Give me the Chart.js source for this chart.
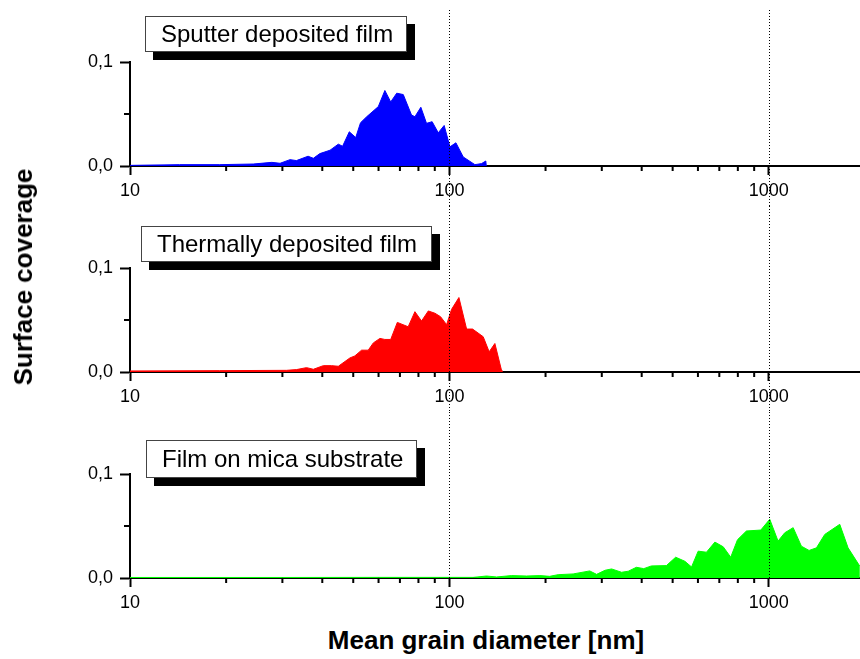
<!DOCTYPE html>
<html>
<head>
<meta charset="utf-8">
<script src="https://cdn.jsdelivr.net/npm/chart.js@4.4.1/dist/chart.umd.min.js"></script>
<style>
  body { margin: 0; background: #fff; }
  #wrap { position: relative; width: 860px; height: 659px; font-family: "Liberation Sans", Arial, sans-serif; }
  canvas { position: absolute; left: 0; }
  .tag {
    position: absolute; box-sizing: border-box; background: #fff;
    border: 1px solid #444; box-shadow: 8px 8px 0 #000;
    font-size: 24px; padding-left: 15px; color: #000; white-space: nowrap;
  }
  .title { position: absolute; font-size: 26px; font-weight: bold; line-height: 30px; white-space: nowrap; color: #000; }
</style>
</head>
<body>
<div id="wrap">
  <canvas id="c1" width="860" height="206" style="top:0"></canvas>
  <canvas id="c2" width="860" height="206" style="top:206px"></canvas>
  <canvas id="c3" width="860" height="206" style="top:412px"></canvas>

  <div class="tag" style="left:145px;top:16px;width:262px;height:36px;line-height:34px">Sputter deposited film</div>
  <div class="tag" style="left:141px;top:226px;width:291px;height:36px;line-height:34px">Thermally deposited film</div>
  <div class="tag" style="left:146px;top:440px;width:271px;height:38px;line-height:36px">Film on mica substrate</div>

  <div class="title" style="left:23px;top:277px;transform:translate(-50%,-50%) rotate(-90deg)">Surface coverage</div>
  <div class="title" style="left:486px;top:625px;transform:translateX(-50%)">Mean grain diameter [nm]</div>
</div>
<script>
// grain diameter [nm] and surface coverage
const sputterD = [10, 14.3, 19.1, 24.3, 27.8, 29.5, 31.7, 33.2, 36.1, 37.5, 39.3, 42.3, 44.9, 46.3, 48.6, 50.9, 52.7, 55.1, 59.9, 62.8, 65.5, 68.4, 71.7, 76.1, 78.0, 81.4, 84.8, 88.3, 92.3, 96.3, 100.4, 104.8, 110.5, 120.2, 126.1, 130.0, 130.5];
const sputterV = [0.0006, 0.0013, 0.0013, 0.0019, 0.0035, 0.0026, 0.0061, 0.0052, 0.0094, 0.0074, 0.0119, 0.0152, 0.021, 0.019, 0.0329, 0.0274, 0.0416, 0.0474, 0.0571, 0.0726, 0.0616, 0.070, 0.0687, 0.049, 0.0474, 0.0565, 0.041, 0.0426, 0.0319, 0.039, 0.0184, 0.0223, 0.0087, 0.0013, 0.0023, 0.0048, 0];

const thermalD = [10, 19.1, 30.9, 33.2, 35.7, 37.5, 40.3, 42.8, 44.9, 48.8, 50.6, 53.1, 55.7, 57.8, 60.6, 62.8, 65.5, 68.7, 74.3, 78.0, 81.8, 85.9, 90.1, 93.8, 98.0, 101.6, 107.1, 113.2, 118.2, 127.6, 133.2, 138.8, 145.6, 146];
const thermalV = [0.001, 0.0013, 0.0016, 0.0023, 0.0042, 0.0026, 0.0061, 0.0061, 0.0055, 0.0135, 0.0155, 0.021, 0.021, 0.028, 0.0323, 0.0313, 0.0313, 0.0477, 0.0435, 0.058, 0.049, 0.0587, 0.0565, 0.0532, 0.0455, 0.0603, 0.0716, 0.0413, 0.0413, 0.0339, 0.0194, 0.0274, 0.0016, 0];

const micaD = [10, 30, 60, 93.3, 100, 118.7, 130.7, 140.5, 156.5, 174.4, 192, 206, 219, 244, 275, 289, 307, 322, 346, 363, 385, 406, 429, 478, 511, 546, 573, 601, 638, 678, 720, 760, 798, 851, 944, 1007, 1069, 1122, 1192, 1265, 1337, 1410, 1497, 1668, 1771, 1928];
const micaV = [0.0005, 0.0005, 0.0006, 0.0006, 0.0006, 0.0006, 0.0019, 0.001, 0.0023, 0.0019, 0.0023, 0.0016, 0.0032, 0.0039, 0.0068, 0.0035, 0.0074, 0.0087, 0.0055, 0.0065, 0.0103, 0.009, 0.0116, 0.0119, 0.02, 0.0161, 0.0106, 0.0258, 0.0248, 0.0345, 0.03, 0.02, 0.0368, 0.0452, 0.0461, 0.0565, 0.0355, 0.0435, 0.0484, 0.0306, 0.0265, 0.029, 0.0419, 0.0516, 0.029, 0.0113];

const xTicks = [10, 20, 30, 40, 50, 60, 70, 80, 90, 100, 200, 300, 400, 500, 600, 700, 800, 900, 1000];
const xLabels = [10, 100, 1000];
const yTicks = [0, 0.05, 0.1];
const yLabels = [0, 0.1];
const guides = [100, 1000];

Chart.defaults.font.family = '"Liberation Sans", Arial, sans-serif';
Chart.defaults.color = '#000';

// minor ticks (shorter) and the dotted guide lines
const axisDecor = {
    id: 'axisDecor',
    afterDraw(chart, args, opts) {
        const { ctx, chartArea, scales: { x, y } } = chart;
        ctx.save();
        ctx.strokeStyle = '#000';
        ctx.lineWidth = 2;
        ctx.beginPath();
        x.ticks.forEach(t => {
            if (xLabels.includes(t.value)) return;
            const px = x.getPixelForValue(t.value);
            ctx.moveTo(px, chartArea.bottom);
            ctx.lineTo(px, chartArea.bottom + 5);
        });
        y.ticks.forEach(t => {
            if (yLabels.includes(t.value)) return;
            const py = y.getPixelForValue(t.value);
            ctx.moveTo(chartArea.left, py);
            ctx.lineTo(chartArea.left - 6, py);
        });
        ctx.stroke();

        ctx.lineWidth = 1;
        ctx.setLineDash([1, 2]);
        ctx.beginPath();
        guides.forEach(v => {
            const px = Math.round(x.getPixelForValue(v)) + 0.5;
            ctx.moveTo(px, opts.top);
            ctx.lineTo(px, opts.toArea ? chartArea.bottom : chart.height);
        });
        ctx.stroke();
        ctx.restore();
    }
};

function makePanel(id, xs, ys, color, top, toArea) {
    return new Chart(document.getElementById(id), {
        type: 'line',
        data: {
            datasets: [{
                data: xs.map((d, i) => ({ x: d, y: ys[i] })),
                borderColor: color,
                backgroundColor: color,
                borderWidth: 1,
                fill: 'origin',
                pointRadius: 0,
                tension: 0
            }]
        },
        options: {
            responsive: false,
            animation: false,
            events: [],
            layout: { padding: { top: 62, right: 0, left: 0, bottom: 0 } },
            plugins: {
                legend: { display: false },
                tooltip: { enabled: false },
                axisDecor: { top: top, toArea: toArea }
            },
            scales: {
                x: {
                    type: 'logarithmic',
                    min: 10,
                    max: 1930,
                    afterBuildTicks: s => { s.ticks = xTicks.map(v => ({ value: v })); },
                    afterFit: s => { s.height = 40; },
                    ticks: {
                        autoSkip: false,
                        maxRotation: 0,
                        padding: 5,
                        font: { size: 18 },
                        callback: v => xLabels.includes(v) ? String(v) : ''
                    },
                    grid: {
                        drawOnChartArea: false,
                        tickLength: 9,
                        tickWidth: 2,
                        tickColor: c => (c.tick && xLabels.includes(c.tick.value)) ? '#000' : 'rgba(0,0,0,0)'
                    },
                    border: { color: '#000', width: 2 }
                },
                y: {
                    min: 0,
                    max: 0.1,
                    afterBuildTicks: s => { s.ticks = yTicks.map(v => ({ value: v })); },
                    afterFit: s => { s.width = 130; },
                    ticks: {
                        padding: 7,
                        font: { size: 18 },
                        callback: v => yLabels.includes(v) ? v.toFixed(1).replace('.', ',') : ''
                    },
                    grid: {
                        drawOnChartArea: false,
                        tickLength: 10,
                        tickWidth: 2,
                        tickColor: c => (c.tick && yLabels.includes(c.tick.value)) ? '#000' : 'rgba(0,0,0,0)'
                    },
                    border: { color: '#000', width: 2 }
                }
            }
        },
        plugins: [axisDecor]
    });
}

makePanel('c1', sputterD, sputterV, '#0000ff', 10, false);
makePanel('c2', thermalD, thermalV, '#ff0000', 0, false);
makePanel('c3', micaD, micaV, '#00ff00', 0, true);
</script>
</body>
</html>
